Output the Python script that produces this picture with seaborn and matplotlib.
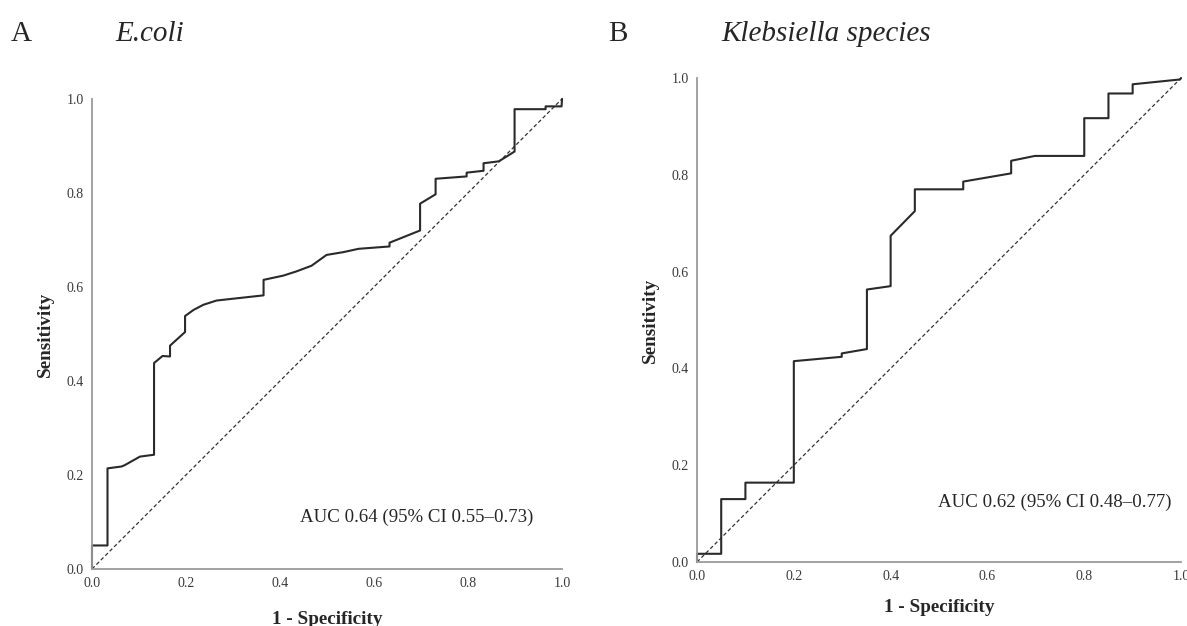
import pandas as pd
import matplotlib
matplotlib.use('Agg')
import matplotlib.pyplot as plt
import seaborn as sns

# ROC points (1 - specificity, sensitivity)
ecoli_fpr = [0.0, 0.0, 0.033, 0.033, 0.063, 0.070, 0.102, 0.132, 0.132, 0.150, 0.166, 0.166,
             0.198, 0.198, 0.216, 0.237, 0.265, 0.365, 0.365, 0.407, 0.435, 0.467, 0.499,
             0.535, 0.567, 0.633, 0.633, 0.698, 0.698, 0.731, 0.731, 0.797, 0.797, 0.833,
             0.833, 0.865, 0.880, 0.899, 0.899, 0.965, 0.965, 0.999, 1.0]
ecoli_tpr = [0.0, 0.05, 0.05, 0.214, 0.218, 0.221, 0.239, 0.243, 0.438, 0.453, 0.452, 0.475,
             0.504, 0.538, 0.551, 0.562, 0.571, 0.582, 0.615, 0.624, 0.633, 0.645, 0.668,
             0.674, 0.681, 0.686, 0.694, 0.720, 0.777, 0.797, 0.830, 0.835, 0.843, 0.847,
             0.863, 0.867, 0.876, 0.888, 0.978, 0.978, 0.984, 0.984, 1.0]

kleb_fpr = [0.0, 0.0, 0.05, 0.05, 0.10, 0.10, 0.20, 0.20, 0.299, 0.299, 0.351, 0.351,
            0.400, 0.400, 0.450, 0.450, 0.550, 0.550, 0.649, 0.649, 0.698, 0.80, 0.80,
            0.85, 0.85, 0.90, 0.90, 0.998, 1.0]
kleb_tpr = [0.0, 0.017, 0.017, 0.13, 0.13, 0.164, 0.164, 0.415, 0.424, 0.431, 0.440, 0.563,
            0.570, 0.674, 0.725, 0.770, 0.770, 0.786, 0.803, 0.829, 0.839, 0.839, 0.917,
            0.917, 0.968, 0.968, 0.987, 0.997, 1.0]

ticks = [0.0, 0.2, 0.4, 0.6, 0.8, 1.0]
panels = [('A', 'E.coli', ecoli_fpr, ecoli_tpr, 'AUC 0.64 (95% CI 0.55\u20130.73)'),
          ('B', 'Klebsiella species', kleb_fpr, kleb_tpr, 'AUC 0.62 (95% CI 0.48\u20130.77)')]

sns.set_style('white')
plt.rcParams['font.family'] = ['Liberation Serif', 'DejaVu Serif']

fig = plt.figure(figsize=(11.87, 6.26), dpi=100)
rects = [[0.0775, 0.0911, 0.396, 0.751], [0.5872, 0.1022, 0.4078, 0.7732]]
letter_x = [0.009, 0.512]
title_x = [0.097, 0.608]
auc_pos = [(0.443, 0.11), (0.498, 0.124)]
xlab_pad = [15, 11]

for i, (letter, name, fpr, tpr, auc) in enumerate(panels):
    ax = fig.add_axes(rects[i])
    df = pd.DataFrame({'fpr': fpr, 'tpr': tpr})
    ax.plot([0, 1], [0, 1], color='#333333', lw=0.9, ls=(0, (3, 2)))
    sns.lineplot(data=df, x='fpr', y='tpr', sort=False, estimator=None,
                 color='#2a2a2a', lw=1.5, ax=ax, clip_on=False)
    ax.set_xlim(0, 1)
    ax.set_ylim(0, 1)
    ax.set_xticks(ticks)
    ax.set_yticks(ticks)
    ax.set_xticklabels([f'{t:.1f}' for t in ticks])
    ax.set_yticklabels([f'{t:.1f}' for t in ticks])
    ax.tick_params(length=0, labelsize=10, labelcolor='#3a3a3a', pad=6)
    sns.despine(ax=ax)
    for s in ['left', 'bottom']:
        ax.spines[s].set_color('#9a9a9a')
        ax.spines[s].set_linewidth(1.3)
    ax.set_xlabel('1 - Specificity', fontsize=13.8, fontweight='bold', labelpad=xlab_pad[i])
    ax.set_ylabel('Sensitivity', fontsize=13.8, fontweight='bold', labelpad=9)
    ax.text(auc_pos[i][0], auc_pos[i][1], auc, fontsize=13.6, va='center', ha='left',
            transform=ax.transAxes)
    fig.text(letter_x[i], 0.9345, letter, fontsize=21, va='baseline')
    fig.text(title_x[i], 0.9345, name, fontsize=21, style='italic', va='baseline')

fig.savefig('out.png', dpi=100)
